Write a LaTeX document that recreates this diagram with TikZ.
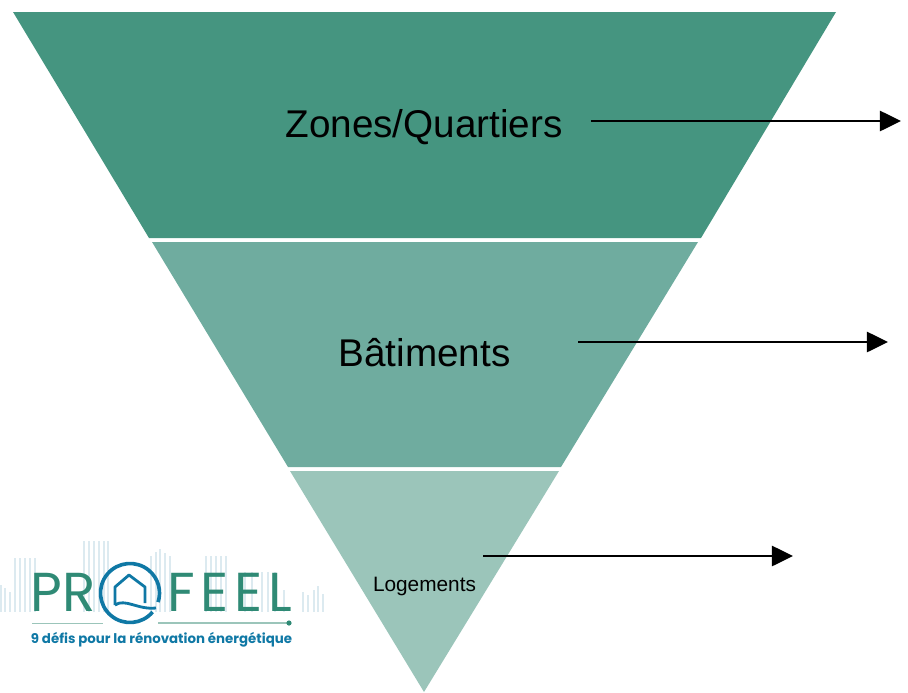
\documentclass[tikz,border=0pt]{standalone}
\usepackage{fontspec}
\setmainfont{Liberation Sans}
\newfontfamily\logofont{Poppins}
\usetikzlibrary{arrows.meta}

\definecolor{zonescol}{HTML}{459580}
\definecolor{batcol}{HTML}{6FAC9F}
\definecolor{logcol}{HTML}{9BC5BA}
\definecolor{logogreen}{HTML}{2F8A75}
\definecolor{logoblue}{HTML}{0F78A5}
\definecolor{logobar}{HTML}{DCEAF0}

\tikzset{
	flowarrow/.style={draw=black,line width=1.1pt,-{Triangle[length=15pt,width=14.5pt]}},
	bigtext/.style={inner sep=0pt,font=\fontsize{27.5}{30}\selectfont},
	logobars/.style={draw=logobar,line width=0.9pt},
	logoletters/.style={inner sep=0pt,text=logogreen,font=\logofont\fontsize{39}{41}\selectfont}
}

\begin{document}
\begin{tikzpicture}[x=0.025cm,y=-0.025cm]

	\useasboundingbox (0,0) rectangle (908,692);

	\fill[zonescol] (13,12) -- (836,12) -- (701,238) -- (149,238) -- cycle;
	\fill[batcol] (152,242) -- (698,242) -- (561,467) -- (288,467) -- cycle;
	\fill[logcol] (290,471) -- (559,471) -- (424,692) -- cycle;

	\node[bigtext] (zones) at (424,127) {Zones/Quartiers};
	\node[bigtext] (batiments) at (424.5,353) {Bâtiments};
	\node[inner sep=0pt,font=\fontsize{14.8}{16}\selectfont] (logements) at (424.5,586) {Logements};

	\coordinate (zonesfrom) at (591,121);
	\coordinate (zonesto) at (901,121);
	\coordinate (batfrom) at (578,342);
	\coordinate (batto) at (888,342);
	\coordinate (logfrom) at (483,556);
	\coordinate (logto) at (793,556);

	\draw[flowarrow] (zonesfrom) -- (zonesto);
	\draw[flowarrow] (batfrom) -- (batto);
	\draw[flowarrow] (logfrom) -- (logto);

	% logo
	\foreach \xx/\yy in {1/585,5/588,10/592,15/558,20/558,25/558,30/558,35/558,
		84/541,89/541,94/541,99/541,104/541,108/541,
		151/556,156/552,160/549,165/553,170/556,
		206/556,211/556,216/556,221/556,226/556,
		245/572,252/572,262/572,268/572,275/572,284/590,
		303/592,308/595,314/590,318/586,323/594}
	{
		\draw[logobars] (\xx,\yy) -- (\xx,612);
	}

	\node[logoletters,anchor=west] (logopr) at (30,592) {PR};
	\node[logoletters,anchor=east] (logofeel) at (292,592) {\addfontfeature{LetterSpace=10}FEEL};

	\draw[logoblue,line width=2.6pt] (130,593) +(40:29.5) arc[start angle=40,end angle=378,radius=29.5];
	\draw[logoblue,line width=2pt,line join=round] (115,605) -- (115,587) -- (129,575) -- (145,587) -- (145,603) (115,605) .. controls (125,598) and (138,610) .. (156,608);

	\draw[logcol,line width=0.5pt] (32,623) -- (103,623);
	\draw[logcol,line width=1.2pt] (158,623) -- (289,623);
	\fill[logogreen] (289,623) circle (2.6);

	\node[inner sep=0pt,text=logoblue,font=\logofont\bfseries\fontsize{9.5}{11}\selectfont] (logotag) at (161.5,640) {9 défis pour la rénovation énergétique};

\end{tikzpicture}
\end{document}
